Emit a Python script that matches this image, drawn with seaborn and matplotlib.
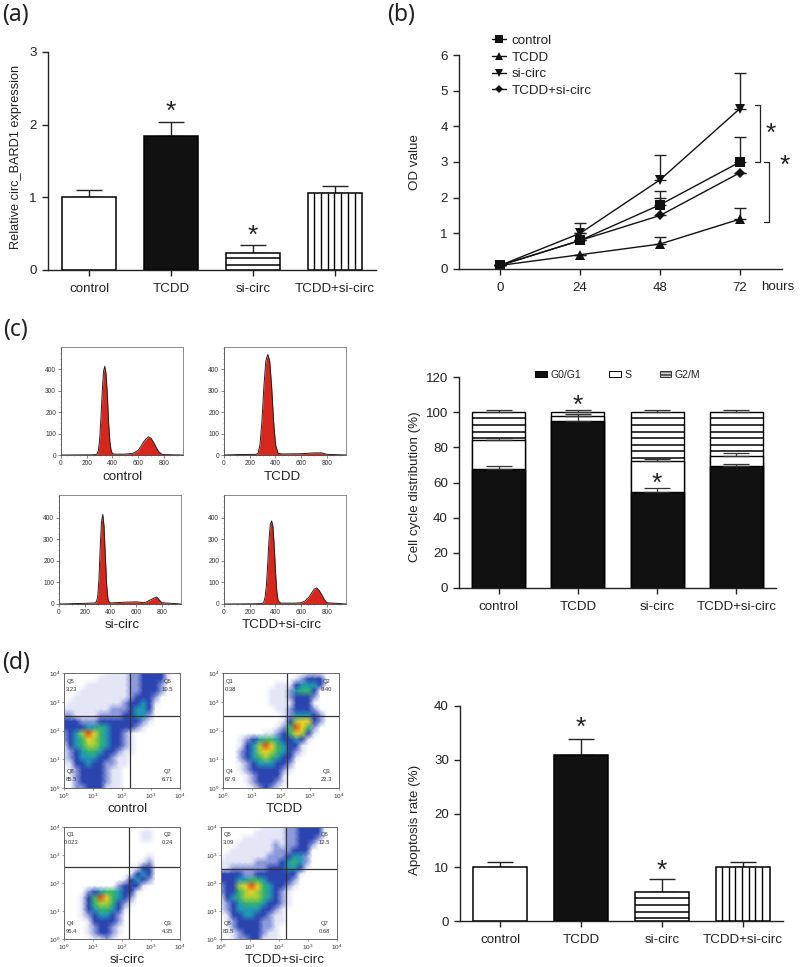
import numpy as np
import pandas as pd
import seaborn as sns
import matplotlib.pyplot as plt
from matplotlib.colors import LinearSegmentedColormap
from matplotlib.patches import Patch

W, H = 800, 967
INK = '#222222'

groups = ['control', 'TCDD', 'si-circ', 'TCDD+si-circ']

# panel a
expr_mean = [1.0, 1.85, 0.24, 1.06]
expr_err = [0.1, 0.19, 0.11, 0.1]

# panel b
hours = [0, 24, 48, 72]
od_control = [0.1, 0.8, 1.8, 3.0]
od_tcdd = [0.1, 0.4, 0.7, 1.4]
od_si = [0.1, 1.0, 2.5, 4.5]
od_both = [0.1, 0.8, 1.5, 2.7]
od_err_control = [0.0, 0.2, 0.4, 0.7]
od_err_tcdd = [0.0, 0.0, 0.2, 0.3]
od_err_si = [0.0, 0.3, 0.7, 1.0]
od_err_both = [0.0, 0.0, 0.5, 0.0]

# panel c, histograms
hist_x_control = [0, 240, 270, 280, 290, 300, 310, 320, 330, 340, 350, 360, 370, 380, 390, 400, 420, 500, 560, 600,
                  620, 640, 660, 680, 700, 720, 740, 760, 780, 800, 950]
hist_y_control = [0, 1, 2, 4, 20, 70, 170, 290, 390, 415, 380, 280, 150, 60, 20, 6, 4, 4, 8, 22,
                  40, 60, 75, 85, 78, 58, 35, 15, 5, 2, 0]
hist_x_tcdd = [0, 100, 250, 265, 280, 295, 310, 325, 340, 355, 370, 385, 400, 420, 450, 600, 700, 760, 800, 950]
hist_y_tcdd = [0, 2, 3, 8, 50, 160, 320, 440, 470, 440, 320, 160, 50, 8, 5, 6, 10, 10, 3, 0]
hist_x_si = [0, 200, 280, 290, 300, 310, 320, 330, 340, 350, 360, 370, 380, 390, 400, 500, 600, 660, 680, 700,
             720, 740, 760, 780, 800, 950]
hist_y_si = [0, 3, 5, 10, 30, 110, 260, 380, 415, 360, 220, 90, 25, 8, 5, 8, 10, 6, 10, 16,
             22, 28, 32, 18, 6, 0]
hist_x_both = [0, 250, 300, 310, 320, 330, 340, 350, 360, 370, 380, 390, 400, 410, 420, 440, 550, 600, 630, 660,
               680, 700, 720, 740, 760, 780, 800, 950]
hist_y_both = [0, 1, 3, 10, 35, 90, 190, 300, 370, 385, 360, 270, 150, 60, 15, 4, 4, 6, 14, 32,
               50, 68, 75, 62, 42, 20, 6, 0]

# panel c, stacked bars
cycle_g0 = [67.7, 95.0, 54.8, 69.5]
cycle_s = [16.5, 3.0, 17.7, 5.8]
cycle_g2m = [15.8, 2.0, 27.5, 24.7]
cycle_err_g0 = [1.9, 3.0, 2.3, 1.3]
cycle_err_s = [1.2, 0.9, 1.1, 1.2]
cycle_err_g2m = [1.0, 1.0, 1.0, 1.0]

# panel d, density levels (0 = no events, 9 = hottest)
flow_control = ['00000 00111 12233 33100', '00000 01111 12233 33100', '00001 11111 12233 32000',
                '00011 11111 12233 32000', '00111 11111 12333 20000', '01111 11111 23343 10000',
                '11111 11122 23443 00000', '22111 12222 33442 00000', '33322 23333 33321 00000',
                '33334 45433 33210 00000', '23469 75433 21000 00000', '23457 65433 21000 00000',
                '13456 65433 21000 00000', '12345 54332 11000 00000', '12344 43321 10000 00000',
                '11334 33221 10000 00000', '01233 33211 00000 00000', '01233 33211 00000 00000',
                '00233 33211 00000 00000', '00223 33111 00000 00000']
flow_tcdd = ['00000 00000 00001 10000', '00000 00000 00123 33000', '00000 00001 11344 43000',
             '00000 00011 12455 30000', '00000 00011 12333 20000', '00000 00011 11333 00000',
             '00000 00001 12333 20000', '00000 00000 12444 32000', '00000 00000 13677 32000',
             '00000 00001 25975 20000', '00000 00112 35763 10000', '00012 34554 33431 00000',
             '00013 46975 43310 00000', '00023 46765 43210 00000', '00023 45654 33100 00000',
             '00012 34443 32000 00000', '00012 33333 21000 00000', '00001 23333 10000 00000',
             '00001 23332 10000 00000', '00000 12321 00000 00000']
flow_si = ['00000 00000 00000 00000', '00000 00000 00011 00000', '00000 00000 00011 00000',
           '00000 00000 00000 00000', '00000 00000 00000 00000', '00000 00000 00001 00000',
           '00000 00000 00012 00000', '00000 00000 00133 00000', '00000 00000 01343 00000',
           '00000 00000 13432 00000', '00000 00002 33310 00000', '00002 34554 33100 00000',
           '00013 59754 32000 00000', '00013 56653 21000 00000', '00013 45543 10000 00000',
           '00012 34432 00000 00000', '00001 33332 00000 00000', '00001 23321 00000 00000',
           '00001 23321 00000 00000', '00000 11210 00000 00000']
flow_both = ['00000 00111 12233 33100', '00000 01111 12233 33000', '00001 11111 12233 32000',
             '00011 11112 12233 20000', '00111 11112 22333 00000', '01111 11122 23442 00000',
             '11111 12222 34542 00000', '11222 22233 34431 00000', '33332 23333 33310 00000',
             '33344 55433 33200 00000', '23367 97543 32100 00000', '23356 76543 21000 00000',
             '13456 66543 21000 00000', '12345 55433 21000 00000', '12344 44332 10000 00000',
             '01334 43321 10000 00000', '01233 33221 10000 00000', '00233 33221 00000 00000',
             '00123 33211 00000 00000', '00122 33111 00000 00000']
flow_gate_x = [0.572, 0.553, 0.562, 0.564]
flow_gate_y = [0.374, 0.371, 0.354, 0.378]
quad_names = [['Q5', 'Q6', 'Q8', 'Q7'], ['Q1', 'Q2', 'Q4', 'Q3'], ['Q1', 'Q2', 'Q4', 'Q3'], ['Q5', 'Q6', 'Q8', 'Q7']]
quad_values = [['3.23', '10.5', '85.5', '6.71'], ['0.38', '9.40', '67.9', '22.3'],
               ['0.023', '0.24', '95.4', '4.35'], ['3.09', '12.5', '83.5', '0.68']]

# panel d, bars
apop_mean = [10.0, 30.8, 5.4, 10.0]
apop_err = [1.0, 3.0, 2.5, 1.0]


def axes_px(fig, left, top, right, bottom):
    """Add axes from pixel edges measured from the top left of the picture."""
    return fig.add_axes([left / W, 1 - bottom / H, (right - left) / W, (bottom - top) / H])


def text_px(fig, x, y, s, **kwargs):
    kwargs.setdefault('ha', 'center')
    kwargs.setdefault('va', 'center')
    kwargs.setdefault('color', INK)
    fig.text(x / W, 1 - y / H, s, **kwargs)


def style_axis(ax, label, label_x, label_y, label_size=9.6):
    sns.despine(ax=ax)
    for side in ['left', 'bottom']:
        ax.spines[side].set_linewidth(1.0)
        ax.spines[side].set_color(INK)
    ax.tick_params(axis='both', length=4.5, width=1.0, color=INK, labelcolor=INK, labelsize=9.6)
    ax.tick_params(axis='x', pad=5)
    ax.set_xlabel('')
    ax.set_ylabel(label, fontsize=label_size, color=INK)
    ax.yaxis.set_label_coords(label_x / W, 1 - label_y / H, transform=ax.figure.transFigure)


def star(ax, x, y, size=19):
    ax.text(x, y, '*', fontsize=size, ha='center', va='center', color=INK, clip_on=False)


def hatch_bar(ax, bar, step, horizontal=True, start=None, stop=None):
    """Rule a bar by hand, because matplotlib hatches only come in a few spacings."""
    x0, x1 = bar.get_x(), bar.get_x() + bar.get_width()
    if horizontal:
        ys = np.arange(start, stop, -step)
        ax.hlines(ys, x0, x1, color='black', lw=1.1, zorder=3)
    else:
        xs = np.arange(x0 + step, x1 - step / 2, step)
        ax.vlines(xs, 0, bar.get_height(), color='black', lw=1.0, zorder=3)


def four_bars(ax, means, errs, ylim, ticks, label, label_x, label_y, h_step, h_start, v_step, label_size=9.6):
    sns.barplot(x=groups, y=means, order=groups, ax=ax, width=0.67, color='white', saturation=1,
                edgecolor='black', linewidth=1.1, errorbar=None, zorder=2)
    bars = ax.patches
    bars[1].set_facecolor('#111111')
    hatch_bar(ax, bars[2], h_step, start=h_start, stop=0)
    hatch_bar(ax, bars[3], v_step, horizontal=False)
    ax.errorbar(range(4), means, yerr=[[0] * 4, errs], fmt='none', ecolor=INK, elinewidth=1.0,
                capsize=9.5, capthick=1.0, zorder=1)
    ax.set_ylim(*ylim)
    ax.set_yticks(ticks)
    ax.set_xlim(-0.5, 3.5)
    style_axis(ax, label, label_x, label_y, label_size)


def draw_a(fig):
    ax = axes_px(fig, 48, 52, 376, 270)
    four_bars(ax, expr_mean, expr_err, (0, 3), [0, 1, 2, 3], 'Relative circ_BARD1 expression', 22, 157,
              0.092, 0.165, 0.082, label_size=9.2)
    star(ax, 1, 2.18)
    star(ax, 2, 0.47)


def draw_b(fig):
    ax = axes_px(fig, 459, 55, 782, 269)
    series = {'control': (od_control, od_err_control), 'TCDD': (od_tcdd, od_err_tcdd),
              'si-circ': (od_si, od_err_si), 'TCDD+si-circ': (od_both, od_err_both)}
    df = pd.DataFrame([{'hours': h, 'OD': v, 'group': name}
                       for name, (vals, _) in series.items() for h, v in zip(hours, vals)])
    sns.lineplot(data=df, x='hours', y='OD', hue='group', style='group', ax=ax, dashes=False,
                 markers={'control': 's', 'TCDD': '^', 'si-circ': 'v', 'TCDD+si-circ': 'D'},
                 palette=['#111111'] * 4, lw=1.0, markersize=7.5, markeredgewidth=0)
    for line in ax.lines:
        if line.get_marker() == 'D':
            line.set_markersize(4.6)
    for vals, errs in series.values():
        ax.errorbar(hours, vals, yerr=[[0] * 4, errs], fmt='none', ecolor=INK, elinewidth=1.0,
                    capsize=4, capthick=1.0, zorder=1)
    ax.set_xlim(-12.3, 84.6)
    ax.set_ylim(0, 6)
    ax.set_xticks(hours)
    ax.set_yticks(range(7))
    style_axis(ax, 'OD value', 421, 162)
    leg = ax.legend(title=None, frameon=False, fontsize=9.6, handlelength=1.1, handletextpad=0.4, labelspacing=0.32,
                    loc='upper left', bbox_to_anchor=(485 / W, 1 - 28 / H), bbox_transform=fig.transFigure,
                    borderpad=0, markerscale=0.8, labelcolor=INK)
    for handle in leg.legend_handles:
        if handle.get_marker() == 'D':
            handle.set_markersize(3.8)
    text_px(fig, 778, 287, 'hours', fontsize=9.6)

    # significance brackets
    ax.plot([76.5, 77.9, 77.9, 76.5], [4.6, 4.6, 3.0, 3.0], color=INK, lw=0.9, clip_on=False)
    ax.plot([79.3, 80.8, 80.8, 79.3], [3.0, 3.0, 1.33, 1.33], color=INK, lw=0.9, clip_on=False)
    star(ax, 81.1, 3.80)
    star(ax, 85.4, 2.88)


def draw_histogram(fig, box, xs, ys, label, label_x, label_y):
    ax = axes_px(fig, *box)
    ax.fill_between(xs, ys, color='#d9261c', lw=0)
    sns.lineplot(x=xs, y=ys, ax=ax, color='#222222', lw=0.7, estimator=None, sort=False)
    ax.set_xlim(0, 948)
    ax.set_ylim(0, 505)
    ax.set_xticks([0, 200, 400, 600, 800])
    ax.set_yticks([0, 100, 200, 300, 400])
    ax.set_xticks(np.arange(0, 948, 50), minor=True)
    ax.set_yticks(np.arange(0, 505, 25), minor=True)
    ax.tick_params(axis='both', which='major', labelsize=4.8, length=2, width=0.5, pad=1.5, color='#555555',
                   labelcolor='#333333')
    ax.tick_params(axis='both', which='minor', length=1, width=0.4, color='#777777')
    for spine in ax.spines.values():
        spine.set_linewidth(0.6)
        spine.set_color('#777777')
    ax.spines['left'].set_color('#444444')
    ax.spines['bottom'].set_color('#444444')
    text_px(fig, label_x, label_y, label, fontsize=9.6)


def draw_cycle(fig):
    ax = axes_px(fig, 459, 377, 776, 588)
    tops_s = np.array(cycle_g0) + np.array(cycle_s)
    tops = tops_s + np.array(cycle_g2m)
    for values in [tops, tops_s, cycle_g0]:
        sns.barplot(x=groups, y=values, order=groups, ax=ax, width=0.67, color='white', saturation=1,
                    edgecolor='black', linewidth=1.0, errorbar=None, zorder=2)
    bars = ax.patches
    for bar in bars[8:]:
        bar.set_facecolor('#111111')
    for bar, s_top in zip(bars[:4], tops_s):
        hatch_bar(ax, bar, 3.73, start=96.4, stop=s_top + 0.5)
    for values, errs in [(tops, cycle_err_g2m), (tops_s, cycle_err_s), (cycle_g0, cycle_err_g0)]:
        ax.errorbar(range(4), values, yerr=[[0] * 4, errs], fmt='none', ecolor='#333333', elinewidth=0.9,
                    capsize=9.5, capthick=0.9, zorder=4)
    ax.set_xlim(-0.5, 3.5)
    ax.set_ylim(0, 120)
    ax.set_yticks(range(0, 121, 20))
    style_axis(ax, 'Cell cycle distribution (%)', 421, 487)
    star(ax, 1, 103.5)
    star(ax, 2, 59.5)
    handles = [Patch(facecolor='#111111', edgecolor='black', lw=0.7, label='G0/G1'),
               Patch(facecolor='white', edgecolor='black', lw=0.7, label='S'),
               Patch(facecolor='#cccccc', edgecolor='#333333', lw=0.7, hatch='-----', label='G2/M')]
    ax.legend(handles=handles, ncol=3, frameon=False, fontsize=7.6, handlelength=1.1, handleheight=0.55,
              handletextpad=0.3, columnspacing=2.7, loc='center left', bbox_to_anchor=(530 / W, 1 - 375 / H),
              bbox_transform=fig.transFigure, borderpad=0, labelcolor=INK)


def draw_flow(fig, box, rows, gate_x, gate_y, names, values, label, label_x, label_y, cmap):
    ax = axes_px(fig, *box)
    grid = np.array([[int(c) for c in row.replace(' ', '')] for row in rows], dtype=float)
    sns.heatmap(grid, ax=ax, cmap=cmap, vmin=0, vmax=9, cbar=False, xticklabels=False, yticklabels=False,
                shading='gouraud')
    n = grid.shape[0] - 1
    ax.set_xlim(0, n)
    ax.set_ylim(n, 0)
    decades = [r'$\mathregular{10^{%d}}$' % i for i in range(5)]
    ax.set_xticks(np.linspace(0, n, 5), decades)
    ax.set_yticks(np.linspace(n, 0, 5), decades, rotation=0)
    ax.tick_params(axis='both', labelsize=4.6, length=1.5, width=0.4, pad=1, color='#555555', labelcolor='#333333',
                   bottom=True, left=True)
    for spine in ax.spines.values():
        spine.set_visible(True)
        spine.set_linewidth(0.7)
        spine.set_color('#666666')
    ax.axvline(gate_x * n, color='#333333', lw=0.9)
    ax.axhline(gate_y * n, color='#333333', lw=0.9)
    spots = [(0.06, 0.07, 0.14), (0.89, 0.07, 0.14), (0.06, 0.86, 0.93), (0.89, 0.86, 0.93)]
    for (x, y_name, y_val), name, val in zip(spots, names, values):
        ax.text(x, 1 - y_name, name, transform=ax.transAxes, fontsize=4.2, ha='center', va='center', color='#333333')
        ax.text(x, 1 - y_val, val, transform=ax.transAxes, fontsize=4.2, ha='center', va='center', color='#333333')
    text_px(fig, label_x, label_y, label, fontsize=9.6)


def draw_apoptosis(fig):
    ax = axes_px(fig, 460, 706, 783, 921)
    four_bars(ax, apop_mean, apop_err, (0, 40), [0, 10, 20, 30, 40], 'Apoptosis rate (%)', 421, 820,
              1.24, 4.2, 0.082)
    star(ax, 1, 36.0)
    star(ax, 2, 9.3)


def main():
    sns.set_style('ticks')
    plt.rcParams['font.family'] = ['Liberation Sans', 'DejaVu Sans']
    plt.rcParams['mathtext.fontset'] = 'custom'
    plt.rcParams['mathtext.rm'] = 'Liberation Sans'

    fig = plt.figure(figsize=(W / 100, H / 100), dpi=100, facecolor='white')

    for letter, x, y in [('(a)', 15, 15), ('(b)', 401, 15), ('(c)', 15, 330), ('(d)', 16, 663)]:
        text_px(fig, x, y, letter, fontsize=16.5, family='Noto Sans')

    draw_a(fig)
    draw_b(fig)

    draw_histogram(fig, (61, 347, 183, 455), hist_x_control, hist_y_control, 'control', 122, 477)
    draw_histogram(fig, (224, 347, 346, 455), hist_x_tcdd, hist_y_tcdd, 'TCDD', 282, 477)
    draw_histogram(fig, (59, 495, 181, 604), hist_x_si, hist_y_si, 'si-circ', 122, 625)
    draw_histogram(fig, (224, 495, 346, 604), hist_x_both, hist_y_both, 'TCDD+si-circ', 282, 625)
    draw_cycle(fig)

    flow_cmap = LinearSegmentedColormap.from_list(
        'flow', ['#ffffff', '#e4e6f6', '#8a97da', '#2b44b0', '#2098b4', '#36b56e', '#a8cf3a', '#f0d322', '#f08c20',
                 '#e84a18'])
    flows = [(flow_control, (64, 673, 180, 788), 'control', 127, 809),
             (flow_tcdd, (223, 673, 339, 788), 'TCDD', 284, 809),
             (flow_si, (64, 827, 180, 939), 'si-circ', 127, 960),
             (flow_both, (221, 827, 337, 939), 'TCDD+si-circ', 285, 960)]
    for i, (rows, box, label, lx, ly) in enumerate(flows):
        draw_flow(fig, box, rows, flow_gate_x[i], flow_gate_y[i], quad_names[i], quad_values[i], label, lx, ly,
                  flow_cmap)
    draw_apoptosis(fig)

    fig.savefig('out.png', dpi=100)


if __name__ == '__main__':
    main()
